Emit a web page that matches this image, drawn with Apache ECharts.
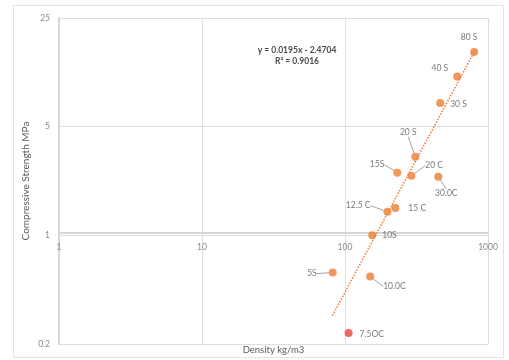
<!DOCTYPE html>
<html>
<head>
<meta charset="utf-8">
<script src="https://cdn.jsdelivr.net/npm/echarts@6/dist/echarts.min.js"></script>
<style>
  html, body { margin: 0; padding: 0; background: #fff; }
  #chart { width: 509px; height: 360px; }
</style>
</head>
<body>
<div id="chart"></div>
<script>
// Specimen names, density (kg/m3) and compressive strength (MPa)
const specimens = ['80 S', '40 S', '30 S', '20 S', '15S', '20 C', '30.0C', '15 C', '12.5 C', '10S', '5S', '10.0C', '7.5OC'];
const density   = [800, 609, 463, 310, 232, 291, 449, 225, 198, 155, 82, 150, 106];
const strength  = [15.1, 10.5, 7.1, 3.2, 2.53, 2.42, 2.38, 1.50, 1.42, 1.0, 0.576, 0.544, 0.235];

// Fitted trend line end points
const trendDensity  = [81.7, 813];
const trendStrength = [0.305, 15.5];
const trendEquation = 'y = 0.0195x - 2.4704';
const trendR2 = 'R\u00B2 = 0.9016';

// Axis tick values
const xTicks = [1, 10, 100, 1000];
const yTicks = [0.2, 1, 5, 25];

// Label placement per specimen: label side, shift [dx, dy], leader line
const labelPlacement = {
  '80 S':   { pos: 'top',    d: [-5, -2], line: false },
  '40 S':   { pos: 'left',   d: [-1, -8], line: false },
  '30 S':   { pos: 'right',  d: [2, 1],   line: false },
  '20 S':   { pos: 'top',    d: [-7, -12], line: true },
  '15S':    { pos: 'left',   d: [-5, -8], line: true },
  '20 C':   { pos: 'right',  d: [6, -10], line: true },
  '30.0C':  { pos: 'bottom', d: [8, 4],   line: true },
  '15 C':   { pos: 'right',  d: [5, 0],   line: false },
  '12.5 C': { pos: 'left',   d: [-9, -6], line: true },
  '10S':    { pos: 'right',  d: [2, 0],   line: false },
  '5S':     { pos: 'left',   d: [-8, 1],  line: true },
  '10.0C':  { pos: 'right',  d: [5, 10],  line: true },
  '7.5OC':  { pos: 'right',  d: [3, 1],   line: false }
};

const orange = '#ED7D31';
const labelColor = '#595959';
const fontFamily = 'Lato, "Open Sans", sans-serif';

const points = specimens.map((name, i) => {
  const p = labelPlacement[name];
  const item = {
    name: name,
    value: [density[i], strength[i]],
    label: { position: p.pos },
    labelLine: { show: p.line }
  };
  if (name === '7.5OC') item.itemStyle = { color: '#E8453C' };
  return item;
});

const chart = echarts.init(document.getElementById('chart'), null, { renderer: 'canvas' });

chart.setOption({
  backgroundColor: '#ffffff',
  animation: false,
  textStyle: { fontFamily: fontFamily },
  title: {
    text: trendEquation + '\n' + trendR2,
    left: 292,
    top: 40,
    textAlign: 'center',
    textStyle: { fontSize: 8.5, fontWeight: 'bold', color: '#4a4a4a', lineHeight: 11, fontFamily: fontFamily }
  },
  graphic: [{
    type: 'rect',
    shape: { x: 13.5, y: 5.5, width: 490, height: 352 },
    style: { fill: 'none', stroke: '#e3e3e3', lineWidth: 1 },
    silent: true,
    z: -10
  }],
  grid: { left: 59, right: 21, top: 18, bottom: 10, containLabel: false },
  xAxis: {
    type: 'log',
    logBase: 10,
    min: xTicks[0],
    max: xTicks[xTicks.length - 1],
    position: 'bottom',
    offset: -111,
    name: 'Density kg/m3',
    nameLocation: 'middle',
    nameGap: 112,
    nameMoveOverlap: false,
    nameTextStyle: { fontSize: 9.5, color: labelColor },
    axisLine: { show: true, lineStyle: { color: '#d6d6d6', width: 2 } },
    axisTick: { show: false },
    axisLabel: { fontSize: 8.5, color: '#8a8a8a', margin: 10, formatter: v => String(v) },
    splitLine: { show: true, lineStyle: { color: '#dedede', width: 1 } }
  },
  yAxis: {
    type: 'log',
    logBase: 5,
    min: yTicks[0],
    max: yTicks[yTicks.length - 1],
    name: 'Compressive Strength MPa',
    nameLocation: 'middle',
    nameGap: 28,
    nameMoveOverlap: false,
    nameTextStyle: { fontSize: 10, color: labelColor },
    axisLine: { show: true, lineStyle: { color: '#d6d6d6', width: 2 } },
    axisTick: { show: false },
    axisLabel: { fontSize: 8.5, color: '#8a8a8a', margin: 9, formatter: v => String(v) },
    splitLine: { show: true, lineStyle: { color: '#dedede', width: 1 } }
  },
  series: [
    {
      name: 'Trend',
      type: 'line',
      data: trendDensity.map((d, i) => [d, trendStrength[i]]),
      symbol: 'none',
      lineStyle: { color: orange, width: 1.5, type: [1.5, 1.5] },
      silent: true,
      z: 1
    },
    {
      name: 'Specimens',
      type: 'scatter',
      data: points,
      symbol: 'circle',
      symbolSize: 8,
      itemStyle: { color: orange },
      label: {
        show: true,
        formatter: '{b}',
        fontSize: 8.5,
        color: labelColor,
        distance: 4
      },
      labelLine: { show: false, lineStyle: { color: '#a6a6a6', width: 1 } },
      labelLayout: function (params) {
        const p = labelPlacement[specimens[params.dataIndex]];
        return { dx: p.d[0], dy: p.d[1] };
      },
      z: 3
    }
  ]
});
</script>
</body>
</html>
